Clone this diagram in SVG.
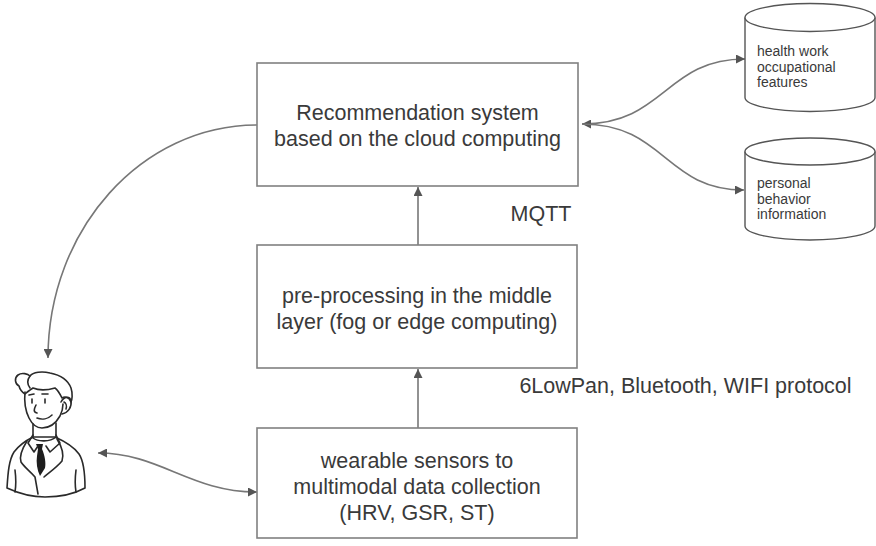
<svg xmlns="http://www.w3.org/2000/svg" width="876" height="546" viewBox="0 0 876 546">
  <defs>
    <marker id="arrow" viewBox="0 0 10 10" refX="10" refY="5" markerWidth="11" markerHeight="9" markerUnits="userSpaceOnUse" orient="auto-start-reverse">
      <path d="M0,0 L10,5 L0,10 z" fill="#555"/>
    </marker>
    <style>
      .box { fill: #fff; stroke: #808080; stroke-width: 1.6; }
      .cyl { fill: #fff; stroke: #555; stroke-width: 1.4; }
      .lbl { font-family: "Liberation Sans", Arial, sans-serif; font-size: 21.5px; fill: #3a3a3a; text-anchor: middle; }
      .small { font-family: "Liberation Sans", Arial, sans-serif; font-size: 14px; fill: #3a3a3a; }
      .edge { fill: none; stroke: #777; stroke-width: 1.6; }
      .ink { fill: none; stroke: #2a2a2a; stroke-width: 1.6; stroke-linecap: round; stroke-linejoin: round; }
    </style>
  </defs>
  <rect width="876" height="546" fill="#fff"/>

  <!-- connectors -->
  <g id="connectors">
    <path class="edge" d="M418,245 L418,187" marker-end="url(#arrow)"/>
    <path class="edge" d="M418,428 L418,369" marker-end="url(#arrow)"/>
    <path class="edge" d="M257,125 C142,125 48,229 48,358" marker-end="url(#arrow)"/>
    <path class="edge" d="M98,453 C160,453 190,492 257,492" marker-start="url(#arrow)" marker-end="url(#arrow)"/>
    <path class="edge" d="M582,124 C665,124 665,59 745,59" marker-start="url(#arrow)" marker-end="url(#arrow)"/>
    <path class="edge" d="M582,124 C665,124 665,190 744,190" marker-end="url(#arrow)"/>
  </g>

  <!-- cloud recommendation system -->
  <g id="cloud">
    <rect class="box" x="257" y="63" width="321" height="123"/>
    <text class="lbl" x="417.5" y="120">Recommendation system</text>
    <text class="lbl" x="417.5" y="146">based on the cloud computing</text>
  </g>

  <!-- fog / edge layer -->
  <g id="fog">
    <rect class="box" x="257" y="245" width="320" height="123"/>
    <text class="lbl" x="417" y="303">pre-processing in the middle</text>
    <text class="lbl" x="417" y="329">layer (fog or edge computing)</text>
  </g>

  <!-- wearable sensors -->
  <g id="sensors">
    <rect class="box" x="257" y="428" width="320" height="110"/>
    <text class="lbl" x="417" y="468">wearable sensors to</text>
    <text class="lbl" x="417" y="494">multimodal data collection</text>
    <text class="lbl" x="417" y="520">(HRV, GSR, ST)</text>
  </g>

  <!-- protocol labels -->
  <g id="labels">
    <text class="lbl" x="541" y="221">MQTT</text>
    <text class="lbl" x="685.5" y="393">6LowPan, Bluetooth, WIFI protocol</text>
  </g>

  <!-- data stores -->
  <g id="store-occupational">
    <path class="cyl" d="M745,17.5 V97.5 A65,14 0 0 0 875,97.5 V17.5"/>
    <ellipse class="cyl" cx="810" cy="17.5" rx="65" ry="14"/>
    <text class="small" x="757" y="56">health work</text>
    <text class="small" x="757" y="72">occupational</text>
    <text class="small" x="757" y="87">features</text>
  </g>
  <g id="store-behavior">
    <path class="cyl" d="M745,151.5 V226 A65,14 0 0 0 875,226 V151.5"/>
    <ellipse class="cyl" cx="810" cy="151.5" rx="65" ry="13.5"/>
    <text class="small" x="757" y="188">personal</text>
    <text class="small" x="757" y="204">behavior</text>
    <text class="small" x="757" y="219">information</text>
  </g>

  <!-- user -->
  <g id="user">
    <!-- body -->
    <path class="ink" fill="#fff" d="M33,437 C27,440 20,444 14,452 C9,460 8,472 7,488 C20,494 32,497 45,497 C60,497 74,494 85,488 C85,472 83,460 79,454 C74,447 64,441 55,437 Z"/>
    <!-- arms -->
    <path class="ink" d="M15,470 C16,478 16,486 15,492"/>
    <path class="ink" d="M76,470 C75,478 75,486 76,492"/>
    <!-- lapels -->
    <path class="ink" d="M27,441 C22,449 19,456 21,462 C24,467 30,471 35,477 L38,494"/>
    <path class="ink" d="M57,439 C62,447 64,455 62,461 C57,467 50,472 44,477"/>
    <!-- tie -->
    <path d="M36,444 L43,444 L42,449 C45,456 46,463 45,468 L40,476 C37,470 36,462 37,456 L38,449 Z" fill="#1e1e1e"/>
    <!-- collar -->
    <path class="ink" d="M33,435 L28,443 L34,452 L38,446"/>
    <path class="ink" d="M56,435 L60,443 L50,452 L46,446"/>
    <!-- neck -->
    <path class="ink" d="M33,424 L33,438 C38,442 50,442 56,437 L56,423"/>
    <!-- face -->
    <path class="ink" fill="#fff" d="M25,392 C24,402 26,412 29,418 C32,424 37,428 42,428 C50,428 56,423 60,416 C62,412 63,408 63,404"/>
    <!-- ear -->
    <path class="ink" d="M61,402 C64,396 70,396 71,401 C72,407 68,413 62,414"/>
    <path class="ink" d="M64,402 C66,403 67,406 66,409"/>
    <!-- hair -->
    <path class="ink" fill="#fff" d="M25,394 C22,392 20,390 19,386 C15,384 14,378 18,375 C22,372 28,374 30,376 C33,372 42,371 50,373 C60,375 68,380 71,388 C73,394 72,400 71,402 C69,397 65,396 62,398 C60,394 58,390 55,388 C48,390 40,391 33,388 C30,390 27,392 25,394 Z"/>
    <path class="ink" d="M30,376 C27,380 27,384 30,388"/>
    <!-- eyebrows and eyes -->
    <path class="ink" d="M29,395 L34,394"/>
    <path class="ink" d="M42,394 L48,394"/>
    <path class="ink" d="M32,399 L32,403"/>
    <path class="ink" d="M45,399 L45,403"/>
    <!-- nose and mouth -->
    <path class="ink" d="M36,405 C34,409 33,412 37,413"/>
    <path class="ink" d="M37,418 C42,420 48,419 52,415"/>
  </g>
</svg>
